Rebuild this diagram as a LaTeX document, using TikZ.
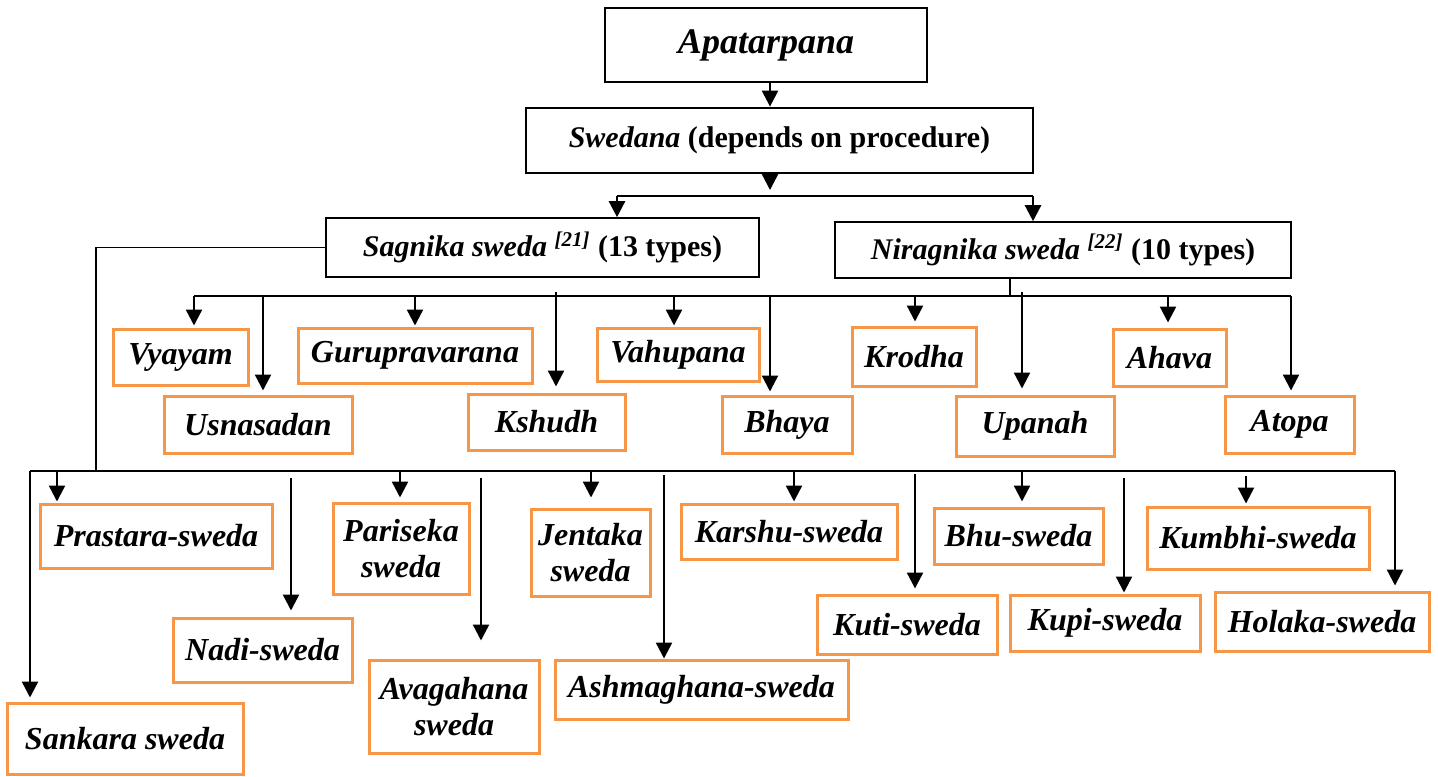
\documentclass[tikz,border=0pt]{standalone}
\usepackage{fontspec}
\setmainfont{Liberation Serif}
\usetikzlibrary{arrows.meta}
\definecolor{leaforange}{HTML}{F79646}
\tikzset{
  treenode/.style = {align=center, inner sep=2pt, text centered, font=\bfseries},
  sz/.style 2 args = {minimum width=#1*0.5pt, minimum height=#2*0.5pt},
  top_n/.style = {treenode, draw, line width=1.4pt, font=\fontsize{15}{18}\selectfont\bfseries},% racine
  sub_n/.style = {treenode, draw, line width=0.8pt, font=\fontsize{15}{18}\selectfont\bfseries},% sagnika / niragnika
  leaf_n/.style = {treenode, draw=leaforange, line width=1.5pt, font=\fontsize{16}{18}\selectfont\bfseries\itshape}% feuilles
}

\begin{document}
\begin{tikzpicture}[x=0.5pt, y=-0.5pt, >={Triangle[length=8pt,width=8pt]},
  bus/.style={line width=0.7pt}, arr/.style={->, line width=1.2pt}]
  \useasboundingbox (0,0) rectangle (1438,776);

  % top levels
  \node [top_n, sz={322}{74}, font=\fontsize{18}{20}\selectfont\bfseries\itshape] (apat) at (766,45) {Apatarpana};
  \node [top_n, sz={507}{65}] (swed) at (779.5,140.5) {\textit{Swedana} (depends on procedure)};
  \node [sub_n, sz={433}{59}] (sag) at (542.5,247.5) {\textit{Sagnika sweda} \textsuperscript{\textit{[21]}} (13 types)};
  \node [sub_n, sz={456}{56}] (nir) at (1063,250) {\textit{Niragnika sweda} \textsuperscript{\textit{[22]}} (10 types)};

  % niragnika (10)
  \node [leaf_n, sz={135}{56}] (vya) at (180.5,357) {Vyayam};
  \node [leaf_n, sz={188}{57}] (usn) at (258,424.5) {Usnasadan};
  \node [leaf_n, sz={234}{55}] (gur) at (415,355.5) {Gurupravarana};
  \node [leaf_n, sz={157}{56}] (ksh) at (546.5,422) {Kshudh};
  \node [leaf_n, sz={162}{53}] (vah) at (678,354.5) {Vahupana};
  \node [leaf_n, sz={130}{57}] (bha) at (787,424.5) {Bhaya};
  \node [leaf_n, sz={124}{59}] (kro) at (914,356.5) {Krodha};
  \node [leaf_n, sz={158}{60}] (upa) at (1035,426) {Upanah};
  \node [leaf_n, sz={113}{57}] (aha) at (1169.5,357.5) {Ahava};
  \node [leaf_n, sz={129}{57}] (ato) at (1289.5,424.5) {Atopa};

  % sagnika (13)
  \node [leaf_n, sz={236}{71}] (san) at (125,738.5) {Sankara sweda};
  \node [leaf_n, sz={232}{64}] (pra) at (156,536) {Prastara-sweda};
  \node [leaf_n, sz={179}{64}] (nad) at (262.5,650) {Nadi-sweda};
  \node [leaf_n, sz={136}{91}] (par) at (401,548.5) {Pariseka\\sweda};
  \node [leaf_n, sz={170}{93}] (ava) at (454,706.5) {Avagahana\\sweda};
  \node [leaf_n, sz={119}{87}] (jen) at (590.5,552.5) {Jentaka\\sweda};
  \node [leaf_n, sz={293}{59}] (ash) at (701.5,689.5) {Ashmaghana-sweda};
  \node [leaf_n, sz={216}{55}] (kar) at (789,531.5) {Karshu-sweda};
  \node [leaf_n, sz={180}{59}] (kut) at (907,624.5) {Kuti-sweda};
  \node [leaf_n, sz={169}{56}] (bhu) at (1018.5,536) {Bhu-sweda};
  \node [leaf_n, sz={190}{56}] (kup) at (1105,623) {Kupi-sweda};
  \node [leaf_n, sz={222}{62}] (kum) at (1258,538) {Kumbhi-sweda};
  \node [leaf_n, sz={214}{59}] (hol) at (1322,621.5) {Holaka-sweda};

  % connectors
  \coordinate (swtip) at (770,190);
  \coordinate (splitL) at (617,196);
  \coordinate (splitR) at (1033,196);
  \draw [arr] (swtip |- apat.south) -- (swtip |- swed.north);
  \draw [arr] (swtip |- swed.south) -- (swtip);
  \draw [bus] (splitL) -- (splitR);
  \draw [arr] (splitL) -- (splitL |- sag.north);
  \draw [arr] (splitR) -- (splitR |- nir.north);

  \coordinate (midL) at (194,296);
  \coordinate (midR) at (1291,296);
  \coordinate (nirdrop) at (1010,296);
  \draw [bus] (midL) -- (midR);
  \draw [bus] (nirdrop |- nir.south) -- (nirdrop);

  \coordinate (lowL) at (30,471);
  \coordinate (lowR) at (1395,471);
  \coordinate (sagdrop) at (96,471);
  \draw [bus] (lowL) -- (lowR);
  \draw [bus] (sag.west) -| (sagdrop);

  \foreach \n/\x/\y/\g in {vya/194/296/2, usn/263/296/4, gur/415/296/1, ksh/556/292/6,
      vah/674/296/1, bha/770/296/3, kro/915/296/4, upa/1022/292/6, aha/1168/296/5, ato/1291/296/4,
      san/30/471/4, pra/57/471/1, nad/291/478/6, par/400/471/4, ava/481/478/18, jen/591/471/10,
      ash/664/475/0, kar/794/471/1, kut/915/474/5, bhu/1022/471/5, kup/1124/478/1, kum/1246/476/2,
      hol/1395/471/5}{
    \coordinate (t-\n) at (\x,\y);
    \draw [arr, shorten >=\g*0.5pt] (t-\n) -- (t-\n |- \n.north);
  }
\end{tikzpicture}
\end{document}
